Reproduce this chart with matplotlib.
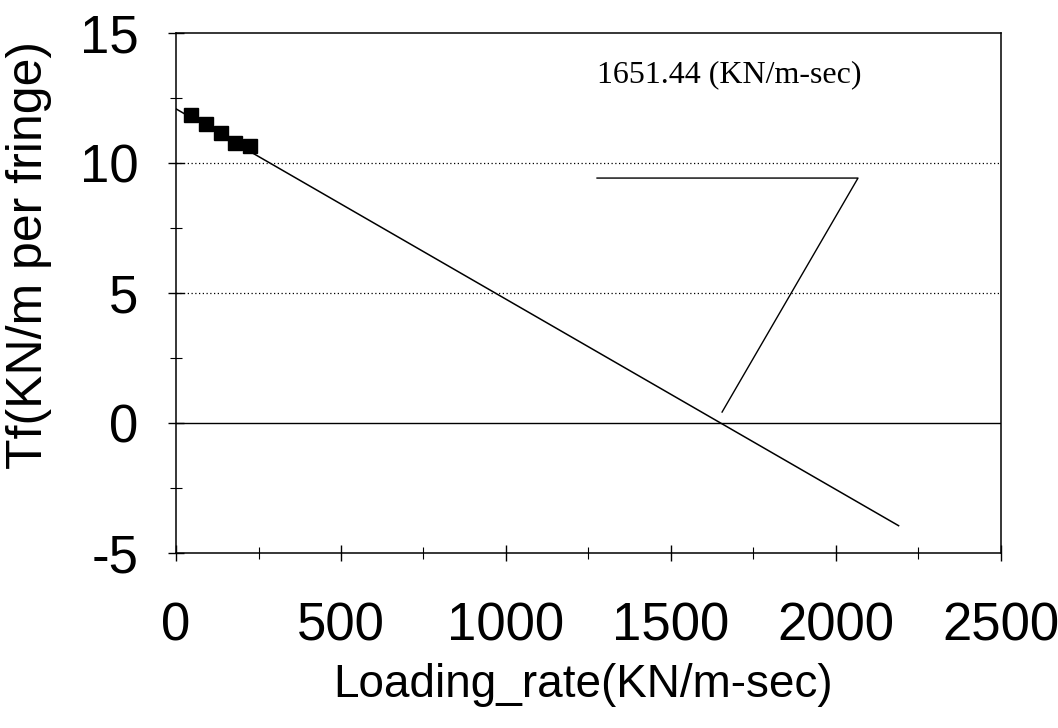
import numpy as np
import matplotlib

matplotlib.use("Agg")
import matplotlib.pyplot as plt
from matplotlib.ticker import MultipleLocator

# measured points (loading rate, fringe value)
rate = [45, 90, 135, 180, 225]
tf = [11.85, 11.5, 11.15, 10.78, 10.65]

# fitted line end points
fit_x = [0, 2190]
fit_y = [12.08, -3.95]

zero_rate = 1651.44
callout_x = [1276, 2067, 1655]
callout_y = [9.42, 9.42, 0.42]

plt.rcParams["font.family"] = ["Liberation Sans", "DejaVu Sans"]
plt.rcParams["axes.unicode_minus"] = False

fig = plt.figure(figsize=(10.58, 7.28), dpi=100)
ax = fig.add_axes([0.1664, 0.2404, 0.7796, 0.7143])

for y in [5, 10]:
    ax.axhline(y, color="black", lw=0.9, ls=(0, (1, 2)))
ax.axhline(0, color="black", lw=1.0)

ax.plot(fit_x, fit_y, color="black", lw=1.1)
ax.plot(rate, tf, "s", color="black", markersize=10)

ax.plot(callout_x, callout_y, color="black", lw=1.0)
ax.text(callout_x[0], 13.4, f"{zero_rate} (KN/m-sec)", family="Liberation Serif",
        fontsize=23, va="center", ha="left")

ax.set_xlim(0, 2500)
ax.set_ylim(-5, 15)
ax.xaxis.set_major_locator(MultipleLocator(500))
ax.xaxis.set_minor_locator(MultipleLocator(250))
ax.yaxis.set_major_locator(MultipleLocator(5))
ax.yaxis.set_minor_locator(MultipleLocator(2.5))
ax.tick_params(which="major", direction="inout", length=12, width=1, labelsize=38)
ax.tick_params(which="minor", direction="inout", length=8, width=0.8)
ax.tick_params(axis="x", pad=29)
ax.tick_params(axis="y", pad=21)

for s in ax.spines.values():
    s.set_linewidth(1.1)

ax.set_xlabel("Loading_rate(KN/m-sec)", fontsize=33)
ax.set_ylabel("Tf(KN/m per fringe)", fontsize=36)
ax.xaxis.set_label_coords(0.493, -0.212)
ax.yaxis.set_label_coords(-0.15, 0.573)

fig.savefig("out.png", dpi=100)
